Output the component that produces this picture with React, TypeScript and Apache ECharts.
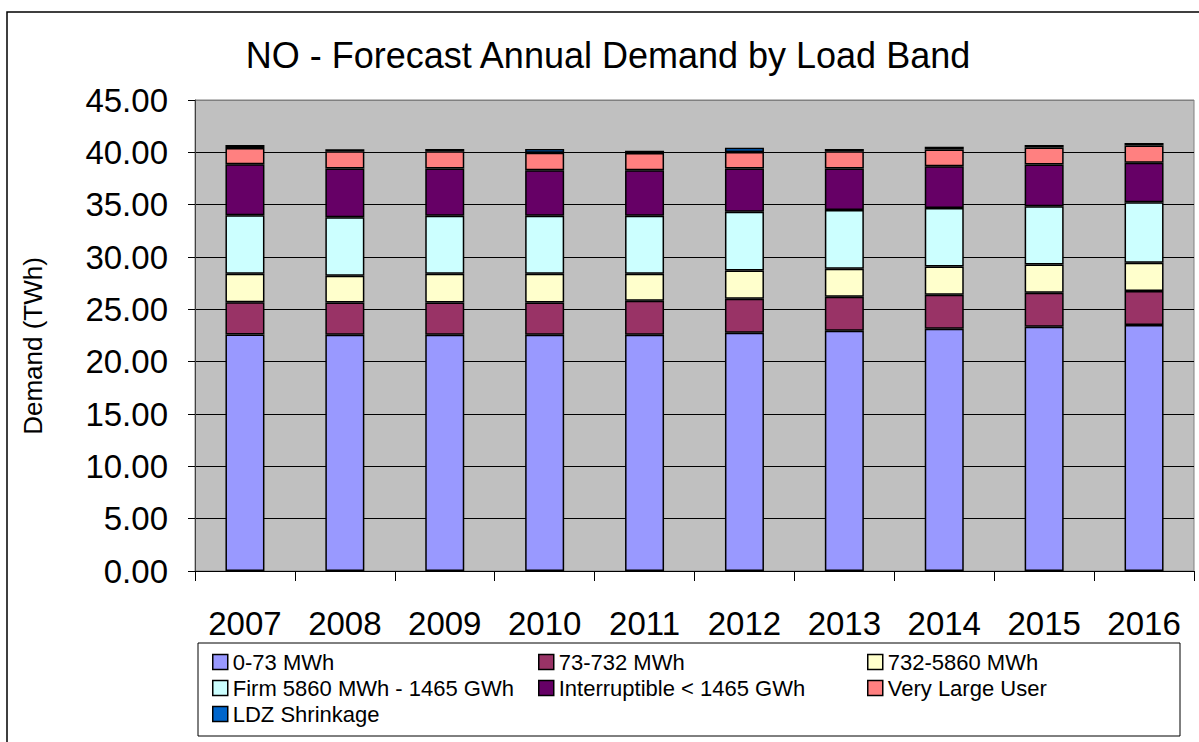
import React, { useEffect, useRef } from "react";
import * as echarts from "echarts";

const years = ["2007", "2008", "2009", "2010", "2011", "2012", "2013", "2014", "2015", "2016"];
const band0_73 = [22.6, 22.57, 22.57, 22.57, 22.57, 22.76, 22.95, 23.14, 23.33, 23.5];
const band73_732 = [3.07, 3.09, 3.09, 3.09, 3.25, 3.26, 3.26, 3.25, 3.25, 3.24];
const band732_5860 = [2.74, 2.54, 2.74, 2.74, 2.58, 2.7, 2.67, 2.71, 2.71, 2.71];
const firm = [5.57, 5.59, 5.54, 5.54, 5.54, 5.6, 5.6, 5.57, 5.57, 5.79];
const interruptible = [4.87, 4.67, 4.52, 4.36, 4.36, 4.14, 3.98, 4.01, 3.98, 3.76];
const veryLarge = [1.56, 1.64, 1.65, 1.66, 1.63, 1.56, 1.65, 1.59, 1.62, 1.65];
const ldz = [0.3, 0.2, 0.2, 0.35, 0.22, 0.41, 0.2, 0.26, 0.23, 0.23];

const seriesNames = [
  "0-73 MWh",
  "73-732 MWh",
  "732-5860 MWh",
  "Firm 5860 MWh - 1465 GWh",
  "Interruptible < 1465 GWh",
  "Very Large User",
  "LDZ Shrinkage",
];
const seriesData = [band0_73, band73_732, band732_5860, firm, interruptible, veryLarge, ldz];
const colors = ["#9999FF", "#993366", "#FFFFCC", "#CCFFFF", "#660066", "#FF8080", "#0066CC"];
const yTicks = ["0.00", "5.00", "10.00", "15.00", "20.00", "25.00", "30.00", "35.00", "40.00", "45.00"];

const FONT = "'Liberation Sans', Arial, sans-serif";

export default function App() {
  const ref = useRef<HTMLDivElement>(null);
  useEffect(() => {
    document.body.style.margin = "0";
    if (!ref.current) return;
    const chart = echarts.init(ref.current, undefined, { renderer: "svg" });
    const legendCommon = {
      orient: "vertical",
      itemWidth: 15,
      itemHeight: 15,
      itemGap: 4,
      icon: "rect",
      textStyle: { fontFamily: FONT, fontSize: 22, color: "#000", lineHeight: 22 },
      itemStyle: { borderColor: "#000", borderWidth: 1.5 },
      selectedMode: false,
      padding: 0,
    };
    chart.setOption({
      animation: false,
      backgroundColor: "#fff",
      textStyle: { fontFamily: FONT },
      title: {
        text: "NO - Forecast Annual Demand by Load Band",
        left: 603,
        textAlign: "center",
        top: 32,
        textStyle: { fontFamily: FONT, fontSize: 36, fontWeight: "normal", color: "#000" },
      },
      graphic: [
        {
          type: "rect",
          shape: { x: 7, y: 12, width: 1300, height: 900 },
          style: { fill: "none", stroke: "#000", lineWidth: 1.5 },
          silent: true,
        },
        {
          type: "rect",
          shape: { x: 198, y: 643, width: 982, height: 93 },
          style: { fill: "none", stroke: "#000", lineWidth: 1 },
          silent: true,
        },
        {
          type: "text",
          x: 33,
          y: 346,
          rotation: Math.PI / 2,
          style: {
            text: "Demand (TWh)",
            font: "26px 'Liberation Sans', Arial, sans-serif",
            fill: "#000",
            align: "center",
            verticalAlign: "middle",
          },
          silent: true,
        },
      ],
      legend: [
        { ...legendCommon, left: 212, top: 651, data: [seriesNames[0], seriesNames[3], seriesNames[6]] },
        { ...legendCommon, left: 538, top: 651, data: [seriesNames[1], seriesNames[4]] },
        { ...legendCommon, left: 867, top: 651, data: [seriesNames[2], seriesNames[5]] },
      ],
      grid: {
        left: 195,
        right: 5,
        top: 100,
        bottom: 171,
        show: true,
        backgroundColor: "#C0C0C0",
        borderColor: "#808080",
        borderWidth: 1,
      },
      xAxis: {
        type: "category",
        data: years,
        boundaryGap: true,
        axisLine: { show: true, lineStyle: { color: "#000", width: 1 } },
        axisTick: { show: true, length: 10, lineStyle: { color: "#000" } },
        axisLabel: { fontFamily: FONT, fontSize: 33, color: "#000", margin: 36 },
        splitLine: { show: false },
      },
      yAxis: {
        type: "value",
        min: 0,
        max: 45,
        interval: 5,
        axisLine: { show: true, lineStyle: { color: "#404040", width: 1 } },
        axisTick: { show: true, length: 7, lineStyle: { color: "#000" } },
        axisLabel: {
          fontFamily: FONT,
          fontSize: 33,
          color: "#000",
          margin: 27,
          formatter: (v: number) => yTicks[Math.round(v / 5)] ?? v.toFixed(2),
        },
        splitLine: {
          show: true,
          lineStyle: {
            color: ["#000", "#000", "#000", "#000", "#000", "#000", "#000", "#000", "#000", "#808080"],
            width: 1,
          },
        },
      },
      series: seriesNames.map((name, i) => ({
        name,
        type: "bar",
        stack: "total",
        barWidth: 39,
        data: seriesData[i],
        itemStyle: { color: colors[i], borderColor: "#000", borderWidth: 1.5 },
      })),
    });
    return () => chart.dispose();
  }, []);
  return <div ref={ref} style={{ width: 1199, height: 742 }} />;
}
